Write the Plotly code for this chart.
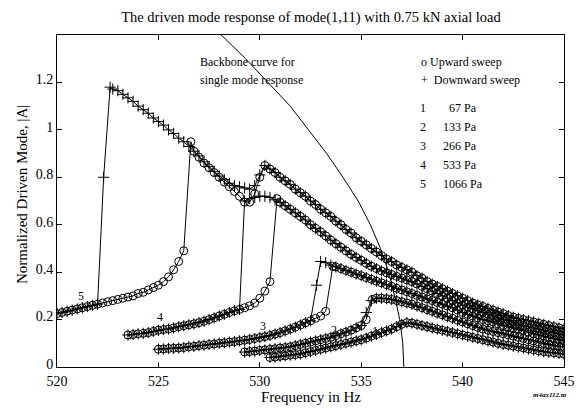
import plotly.graph_objects as go

# ---------------- data ----------------
# frequency grid of the sweeps (Hz)
freq = [520.0, 520.25, 520.5, 520.75, 521.0, 521.25, 521.5, 521.75, 522.0, 522.25, 522.5, 522.75,
        523.0, 523.25, 523.5, 523.75, 524.0, 524.25, 524.5, 524.75, 525.0, 525.25, 525.5, 525.75,
        526.0, 526.25, 526.5, 526.75, 527.0, 527.25, 527.5, 527.75, 528.0, 528.25, 528.5, 528.75,
        529.0, 529.25, 529.5, 529.75, 530.0, 530.25, 530.5, 530.75, 531.0, 531.25, 531.5, 531.75,
        532.0, 532.25, 532.5, 532.75, 533.0, 533.25, 533.5, 533.75, 534.0, 534.25, 534.5, 534.75,
        535.0, 535.25, 535.5, 535.75, 536.0, 536.25, 536.5, 536.75, 537.0, 537.25, 537.5, 537.75,
        538.0, 538.25, 538.5, 538.75, 539.0, 539.25, 539.5, 539.75, 540.0, 540.25, 540.5, 540.75,
        541.0, 541.25, 541.5, 541.75, 542.0, 542.25, 542.5, 542.75, 543.0, 543.25, 543.5, 543.75,
        544.0, 544.25, 544.5, 544.75, 545.0]

# ---- curve 5 : 1066 Pa ----
lo5_start = 520.0   # lower branch
lo5 = [0.225, 0.23, 0.235, 0.24, 0.245, 0.25, 0.255, 0.26, 0.265, 0.27, 0.275, 0.28, 0.285, 0.29,
       0.295, 0.30, 0.31, 0.315, 0.325, 0.335, 0.345, 0.36, 0.38, 0.41, 0.445, 0.49]
hi5_start = 522.75  # upper branch (downward sweep)
hi5 = [1.172, 1.165, 1.15, 1.135, 1.12, 1.10, 1.085, 1.07, 1.05, 1.035, 1.02, 1.00, 0.985, 0.965, 0.95,
       0.93, 0.91, 0.89, 0.865, 0.845, 0.825, 0.805, 0.79, 0.775, 0.765, 0.76, 0.755, 0.75, 0.765, 0.81,
       0.85, 0.835, 0.82, 0.80, 0.785, 0.77, 0.75, 0.735, 0.72, 0.70, 0.685, 0.665, 0.65, 0.635, 0.615,
       0.60, 0.58, 0.565, 0.545, 0.53, 0.515, 0.50, 0.485, 0.47, 0.455, 0.445, 0.43, 0.42, 0.41, 0.40,
       0.385, 0.375, 0.36, 0.35, 0.34, 0.33, 0.32, 0.31, 0.30, 0.29, 0.28, 0.27, 0.262, 0.255, 0.247,
       0.24, 0.232, 0.225, 0.217, 0.21, 0.205, 0.20, 0.195, 0.19, 0.185, 0.18, 0.175, 0.17, 0.165, 0.16]
mid5_start = 526.75  # upward sweep after its jump (dip near 529.4 Hz)
mid5 = [0.91, 0.885, 0.86, 0.84, 0.82, 0.80, 0.78, 0.76, 0.74, 0.72, 0.695, 0.695, 0.73, 0.80]
jf5_up, ja5_up = [526.6], [0.95]
jf5_dn, ja5_dn = [522.3, 522.62], [0.80, 1.18]

# ---- curve 4 : 533 Pa ----
lo4_start = 523.5
lo4 = [0.135, 0.137, 0.14, 0.142, 0.145, 0.15, 0.155, 0.158, 0.16, 0.165, 0.17, 0.174, 0.178, 0.182,
       0.187, 0.193, 0.20, 0.207, 0.215, 0.222, 0.23, 0.237, 0.243, 0.25, 0.258, 0.27, 0.29, 0.32, 0.36]
hi4_start = 529.25
hi4 = [0.70, 0.71, 0.715, 0.72, 0.72, 0.715, 0.705, 0.695, 0.68, 0.665, 0.65, 0.635, 0.62, 0.60, 0.585,
       0.57, 0.553, 0.535, 0.52, 0.505, 0.49, 0.475, 0.462, 0.45, 0.437, 0.425, 0.415, 0.405, 0.397, 0.39,
       0.382, 0.375, 0.367, 0.36, 0.35, 0.34, 0.33, 0.32, 0.31, 0.30, 0.29, 0.28, 0.27, 0.26, 0.252, 0.245,
       0.237, 0.23, 0.222, 0.215, 0.207, 0.20, 0.195, 0.19, 0.182, 0.175, 0.17, 0.165, 0.16, 0.155, 0.15,
       0.145, 0.14, 0.135]
jf4_up, ja4_up = [530.85], [0.71]

# ---- curve 3 : 266 Pa ----
lo3_start = 525.0
lo3 = [0.075, 0.076, 0.078, 0.079, 0.08, 0.082, 0.085, 0.087, 0.09, 0.092, 0.095, 0.097, 0.10, 0.102,
       0.105, 0.107, 0.11, 0.113, 0.116, 0.12, 0.124, 0.128, 0.133, 0.139, 0.145, 0.152, 0.16, 0.168,
       0.177, 0.186, 0.195, 0.205, 0.215, 0.235]
hi3_start = 533.0
hi3 = [0.445, 0.44, 0.43, 0.422, 0.415, 0.407, 0.40, 0.392, 0.385, 0.377, 0.37, 0.362, 0.355, 0.347,
       0.34, 0.332, 0.325, 0.317, 0.31, 0.302, 0.295, 0.287, 0.28, 0.272, 0.265, 0.257, 0.25, 0.24, 0.23,
       0.222, 0.215, 0.207, 0.20, 0.195, 0.19, 0.182, 0.175, 0.17, 0.165, 0.16, 0.155, 0.147, 0.14, 0.135,
       0.13, 0.125, 0.12, 0.115, 0.11]
jf3_up, ja3_up = [533.6], [0.425]
jf3_dn, ja3_dn = [532.8], [0.345]

# ---- curve 2 : 133 Pa ----
lo2_start = 529.25
lo2 = [0.063, 0.065, 0.067, 0.07, 0.072, 0.075, 0.077, 0.08, 0.082, 0.085, 0.09, 0.095, 0.10, 0.105,
       0.11, 0.115, 0.12, 0.125, 0.132, 0.14, 0.147, 0.155, 0.165, 0.175, 0.20]
hi2_start = 535.5
hi2 = [0.28, 0.29, 0.29, 0.288, 0.285, 0.28, 0.275, 0.27, 0.265, 0.257, 0.25, 0.242, 0.235, 0.227, 0.22,
       0.212, 0.205, 0.197, 0.19, 0.182, 0.175, 0.167, 0.16, 0.155, 0.15, 0.145, 0.14, 0.135, 0.13, 0.125,
       0.12, 0.115, 0.11, 0.105, 0.10, 0.095, 0.09, 0.087, 0.085]
jf2_up, ja2_up = [535.55], [0.285]
jf2_dn, ja2_dn = [535.25], [0.23]

# ---- curve 1 : 67 Pa (no jump) ----
c1_start = 530.5
c1 = [0.04, 0.042, 0.045, 0.047, 0.05, 0.052, 0.055, 0.06, 0.065, 0.07, 0.075, 0.08, 0.085, 0.09, 0.095,
      0.10, 0.105, 0.11, 0.115, 0.122, 0.13, 0.137, 0.145, 0.152, 0.16, 0.17, 0.18, 0.187, 0.185, 0.18,
      0.175, 0.17, 0.165, 0.16, 0.155, 0.15, 0.145, 0.14, 0.135, 0.13, 0.125, 0.12, 0.115, 0.11, 0.105,
      0.10, 0.095, 0.092, 0.088, 0.084, 0.08, 0.076, 0.072, 0.068, 0.065, 0.062, 0.06, 0.057, 0.055]

# backbone curve for single mode response
bb_f = [527.5, 528.1, 529.3, 530.4, 531.5, 532.4, 533.3, 534.1, 534.85, 535.45, 535.95, 536.35, 536.65,
        536.9, 537.05, 537.1]
bb_a = [1.45, 1.4, 1.3, 1.2, 1.1, 1.0, 0.9, 0.8, 0.7, 0.6, 0.5, 0.4, 0.3, 0.2, 0.1, 0.0]

curve_labels = ["1", "2", "3", "4", "5"]
label_f = [535.7, 533.65, 530.15, 525.1, 521.2]
label_a = [0.15, 0.155, 0.175, 0.21, 0.30]
pressures = ["67 Pa", "133 Pa", "266 Pa", "533 Pa", "1066 Pa"]

x_ticks = [520, 525, 530, 535, 540, 545]
y_ticks = [0, 0.2, 0.4, 0.6, 0.8, 1.0, 1.2]
y_ticktext = ["0", "0.2", "0.4", "0.6", "0.8", "1", "1.2"]


# ---------------- assemble sweeps from the branches ----------------
def branch(start, vals, f_from=None, f_to=None):
    i0 = freq.index(start)
    pts = list(zip(freq[i0:i0 + len(vals)], vals))
    return [(f, a) for f, a in pts
            if (f_from is None or f >= f_from) and (f_to is None or f <= f_to)]


def pts(fs, as_):
    return list(zip(fs, as_))


up5 = branch(lo5_start, lo5) + pts(jf5_up, ja5_up) + branch(mid5_start, mid5) + branch(hi5_start, hi5, 530.25)
dn5 = branch(lo5_start, lo5, None, 522.0) + pts(jf5_dn, ja5_dn) + branch(hi5_start, hi5)
up4 = branch(lo4_start, lo4) + pts(jf4_up, ja4_up) + branch(hi4_start, hi4, 531.0)
dn4 = branch(lo4_start, lo4, None, 529.0) + branch(hi4_start, hi4)
up3 = branch(lo3_start, lo3) + pts(jf3_up, ja3_up) + branch(hi3_start, hi3, 533.75)
dn3 = branch(lo3_start, lo3, None, 532.5) + pts(jf3_dn, ja3_dn) + branch(hi3_start, hi3)
up2 = branch(lo2_start, lo2) + pts(jf2_up, ja2_up) + branch(hi2_start, hi2, 535.75)
dn2 = branch(lo2_start, lo2, None, 535.0) + pts(jf2_dn, ja2_dn) + branch(hi2_start, hi2)
up1 = branch(c1_start, c1)
dn1 = branch(c1_start, c1)

# ---------------- figure ----------------
SERIF = "Liberation Serif, Times New Roman, serif"
W, H = 586, 408
L, R, T, B = 57, 22, 35, 41

fig = go.Figure()
fig.add_trace(go.Scatter(x=bb_f, y=bb_a, mode="lines", line=dict(color="black", width=1),
                         showlegend=False, hoverinfo="skip"))

for sweep_up, sweep_dn in [(up1, dn1), (up2, dn2), (up3, dn3), (up4, dn4), (up5, dn5)]:
    fig.add_trace(go.Scatter(x=[p[0] for p in sweep_up], y=[p[1] for p in sweep_up], mode="lines+markers",
                             line=dict(color="black", width=1),
                             marker=dict(symbol="circle-open", size=8, color="black",
                                         line=dict(width=1, color="black")),
                             showlegend=False))
    fig.add_trace(go.Scatter(x=[p[0] for p in sweep_dn], y=[p[1] for p in sweep_dn], mode="lines+markers",
                             line=dict(color="black", width=1),
                             marker=dict(symbol="cross-thin-open", size=8, color="black",
                                         line=dict(width=1, color="black")),
                             showlegend=False))


def px(x):
    return (x - L) / (W - L - R)


def py(y):
    return (H - B - y) / (H - T - B)


FONT = dict(family=SERIF, size=12, color="black")
ann = []
for t, f, a in zip(curve_labels, label_f, label_a):
    ann.append(dict(x=f, y=a, xref="x", yref="y", text=t, showarrow=False, font=FONT))

ann.append(dict(x=px(198), y=py(62), xref="paper", yref="paper", xanchor="left", yanchor="middle",
                text="Backbone curve for", showarrow=False, font=FONT))
ann.append(dict(x=px(198), y=py(80), xref="paper", yref="paper", xanchor="left", yanchor="middle",
                text="single mode response", showarrow=False, font=FONT))
ann.append(dict(x=px(419), y=py(62), xref="paper", yref="paper", xanchor="left", yanchor="middle",
                text="o Upward sweep", showarrow=False, font=FONT))
ann.append(dict(x=px(419), y=py(80), xref="paper", yref="paper", xanchor="left", yanchor="middle",
                text="+\u00a0 Downward sweep", showarrow=False, font=FONT))
row_y = [108, 127, 146, 165, 184]
val_x = [447, 441, 441, 441, 441]
for t, p, yy, vx in zip(curve_labels, pressures, row_y, val_x):
    ann.append(dict(x=px(423), y=py(yy), xref="paper", yref="paper", xanchor="center", yanchor="middle",
                    text=t, showarrow=False, font=FONT))
    ann.append(dict(x=px(vx), y=py(yy), xref="paper", yref="paper", xanchor="left", yanchor="middle",
                    text=p, showarrow=False, font=FONT))

ann.append(dict(x=px(311), y=py(397), xref="paper", yref="paper", xanchor="center", yanchor="middle",
                text="Frequency in Hz", showarrow=False, font=dict(family=SERIF, size=15, color="black")))
ann.append(dict(x=px(22), y=py(195), xref="paper", yref="paper", xanchor="center", yanchor="middle",
                text="Normalized Driven Mode, |A|", textangle=-90, showarrow=False,
                font=dict(family=SERIF, size=15, color="black")))
ann.append(dict(x=px(569), y=py(395), xref="paper", yref="paper", xanchor="right", yanchor="middle",
                text="<b><i>m4ax112.m</i></b>", showarrow=False,
                font=dict(family=SERIF, size=7, color="black")))

axis_common = dict(showgrid=False, zeroline=False, showline=True, linecolor="black", linewidth=1,
                   mirror="ticks", ticks="inside", ticklen=5, tickwidth=1, tickcolor="black",
                   tickfont=dict(family=SERIF, size=14, color="black"))

fig.update_layout(
    width=W, height=H,
    margin=dict(l=L, r=R, t=T, b=B),
    paper_bgcolor="white", plot_bgcolor="white",
    title=dict(text="The driven mode response of mode(1,11) with 0.75 kN axial load",
               x=311 / W, xanchor="center", y=1 - 17 / H, yanchor="middle", xref="container", yref="container",
               font=dict(family=SERIF, size=14.5, color="black")),
    xaxis=dict(range=[520, 545], tickvals=x_ticks, ticktext=[str(v) for v in x_ticks],
               ticklabelstandoff=1, **axis_common),
    yaxis=dict(range=[0, 1.4], tickvals=y_ticks, ticktext=y_ticktext, ticklabelshift=-3, **axis_common),
    annotations=ann,
    showlegend=False,
)

fig.write_html("out.html")
